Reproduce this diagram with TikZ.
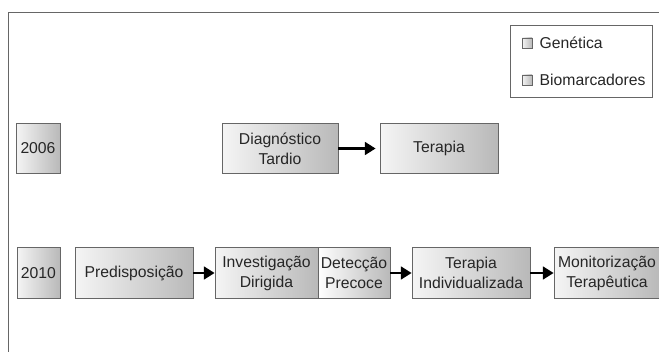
\documentclass[tikz,border=0pt]{standalone}
\usepackage{fontspec}
\setmainfont{Liberation Sans}
\usetikzlibrary{arrows.meta}
\tikzstyle{stagebox}=[rectangle,draw=black!60,line width=0.6pt,
                      left color=gray!8,right color=gray!55,
                      text=black!85,align=center,inner sep=0pt,
                      minimum height=38pt,
                      font=\fontsize{11.8}{15}\selectfont]
\tikzstyle{keybox}=[rectangle,draw=black!60,line width=0.5pt,
                    left color=gray!8,right color=gray!55,
                    inner sep=0pt,minimum size=7.5pt]
\tikzstyle{flow}=[-{Triangle[length=8pt,width=9.5pt]},line width=1.8pt,black]

\begin{document}
\begin{tikzpicture}[x=0.75pt,y=-0.75pt]
    \useasboundingbox (0,0) rectangle (659,352);
    % frame
    \coordinate (tr) at (662,12);
    \coordinate (tl) at (8,12);
    \coordinate (bl) at (8,355);
    \draw[black!60,line width=0.6pt] (tr) -- (tl) -- (bl);
    % legend
    \node (leg) at (581,61) [rectangle,draw=black!60,line width=0.6pt,
        minimum width=106.5pt,minimum height=54pt]{};
    \node (kgen) at (527,43) [keybox,label={[text=black!85,font=\fontsize{11.8}{13}\selectfont,xshift=2pt]right:Genética}]{};
    \node (kbio) at (527,80) [keybox,label={[text=black!85,font=\fontsize{11.8}{13}\selectfont,xshift=2pt]right:Biomarcadores}]{};
    % 2006
    \node (y06) at (38,148.5) [stagebox,minimum width=33pt]{2006};
    \node (diag) at (280,148.5) [stagebox,minimum width=87pt]{Diagnóstico\\Tardio};
    \node (ter) at (439,148.5) [stagebox,minimum width=88.5pt]{Terapia};
    \draw[flow,shorten >=3pt] (diag) -- (ter);
    % 2010
    \node (y10) at (38.5,273) [stagebox,minimum width=32.25pt]{2010};
    \node (pred) at (134,273) [stagebox,minimum width=88.5pt]{Predisposição};
    \node (inv) at (266.5,273) [stagebox,minimum width=77.25pt]{Investigação\\Dirigida};
    \node (det) at (354,273) [stagebox,minimum width=54pt,left color=white]{Detecção\\Precoce};
    \node (tind) at (471,273) [stagebox,minimum width=88.5pt]{Terapia\\Individualizada};
    \node (mon) at (607,273) [stagebox,minimum width=79.5pt]{Monitorização\\Terapêutica};
    \draw[flow] (pred) -- (inv);
    \draw[flow] (det) -- (tind);
    \draw[flow] (tind) -- (mon);
\end{tikzpicture}
\end{document}
